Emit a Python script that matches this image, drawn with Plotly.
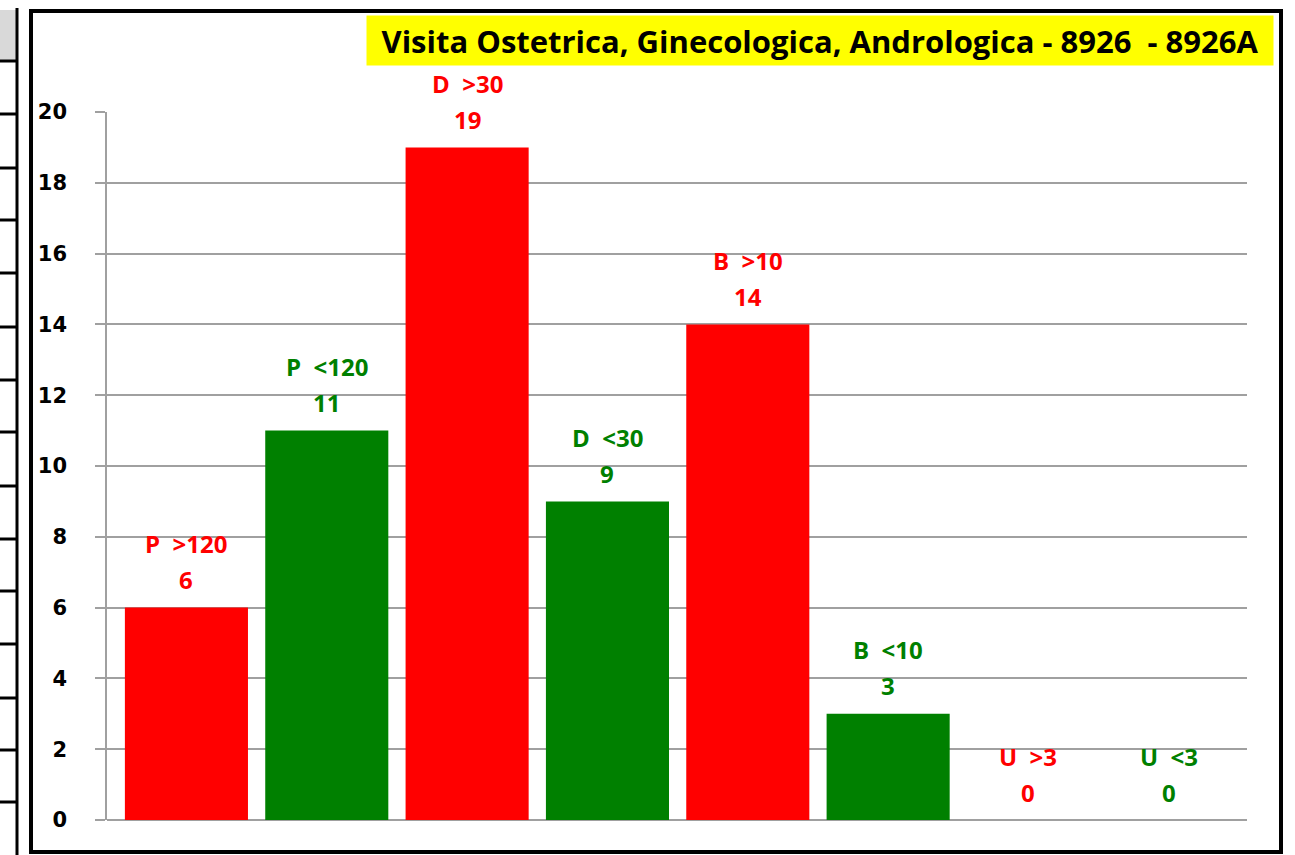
import plotly.graph_objects as go

categories = ["P >120", "P <120", "D >30", "D <30", "B >10", "B <10", "U >3", "U <3"]
labels = ["P\u00a0 >120", "P\u00a0 <120", "D\u00a0 >30", "D\u00a0 <30", "B\u00a0 >10", "B\u00a0 <10", "U\u00a0 >3", "U\u00a0 <3"]
values = [6, 11, 19, 9, 14, 3, 0, 0]
colors = ["#FF0000", "#008000", "#FF0000", "#008000", "#FF0000", "#008000", "#FF0000", "#008000"]
title_text = "Visita Ostetrica, Ginecologica, Andrologica - 8926\u00a0 - 8926A"
y_ticks = list(range(0, 21, 2))

W, H = 1295, 855
ML, MR, MT, MB = 107, 48, 112, 35
PW, PH = W - ML - MR, H - MT - MB


def px(x):
    return (x - ML) / PW


def py(y):
    return (H - MB - y) / PH


fig = go.Figure()
fig.add_trace(go.Bar(
    x=list(range(len(categories))), y=values, marker=dict(color=colors, line=dict(width=0)),
    hoverinfo="skip", showlegend=False,
))

ann = []
for i, (lab, v, c) in enumerate(zip(labels, values, colors)):
    f = dict(family="Open Sans", size=24, color=c, weight="bold")
    ann.append(dict(x=i, y=v, xref="x", yref="y", text=str(v), showarrow=False,
                    yanchor="middle", yshift=28, font=f))
    ann.append(dict(x=i, y=v, xref="x", yref="y", text=lab, showarrow=False,
                    yanchor="middle", yshift=64, font=f))

ann.append(dict(x=px(1274), y=py(15), xref="paper", yref="paper", xanchor="right", yanchor="top",
                text=title_text, showarrow=False, bgcolor="#FFFF00", width=902, height=45, borderpad=2,
                font=dict(family="Open Sans", size=31, color="black", weight="bold")))

shapes = []
# chart border
shapes.append(dict(type="rect", xref="paper", yref="paper", x0=px(31), x1=px(1281), y0=py(852), y1=py(11),
                   line=dict(color="black", width=4)))
# spreadsheet strip on the left
shapes.append(dict(type="rect", xref="paper", yref="paper", x0=px(0), x1=px(17), y0=py(61), y1=py(10),
                   fillcolor="#D9D9D9", line=dict(width=0)))
shapes.append(dict(type="line", xref="paper", yref="paper", x0=px(17), x1=px(17), y0=py(855), y1=py(8),
                   line=dict(color="black", width=3)))
for yy in [61, 114, 168, 220, 273, 327, 380, 432, 486, 539, 591, 644, 698, 750, 802]:
    shapes.append(dict(type="line", xref="paper", yref="paper", x0=px(0), x1=px(17), y0=py(yy), y1=py(yy),
                       line=dict(color="black", width=3)))

fig.update_layout(
    width=W, height=H, margin=dict(l=ML, r=MR, t=MT, b=MB, pad=0),
    paper_bgcolor="white", plot_bgcolor="white", bargap=0.123,
    annotations=ann, shapes=shapes,
)
fig.update_xaxes(range=[-0.566, 7.557], showticklabels=False, showgrid=False, zeroline=False, showline=False)
fig.update_yaxes(range=[0, 20], tickvals=y_ticks, showgrid=True, gridcolor="#A0A0A0", gridwidth=1.5,
                 zeroline=True, zerolinecolor="#A0A0A0", zerolinewidth=1.5,
                 showline=True, linecolor="#A0A0A0", linewidth=1.5,
                 ticks="outside", ticklen=10, tickcolor="#A0A0A0", tickwidth=1.5, ticklabelstandoff=24,
                 tickfont=dict(family="DejaVu Sans", size=21, color="black", weight="bold"))

fig.write_html("out.html", config={"displayModeBar": False},
               post_script="document.body.style.margin='0';document.body.style.overflow='hidden';")
